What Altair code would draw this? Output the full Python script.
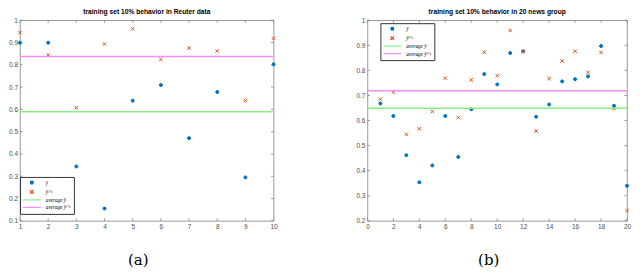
import altair as alt
import pandas as pd

# ---- data ----
left_x = [1, 2, 3, 4, 5, 6, 7, 8, 9, 10]
left_yhat = [0.899, 0.899, 0.344, 0.155, 0.639, 0.709, 0.471, 0.678, 0.295, 0.802]
left_ylu = [0.944, 0.844, 0.608, 0.893, 0.962, 0.824, 0.875, 0.862, 0.639, 0.919]
left_avg = [0.589, 0.837]

right_x = list(range(1, 21))
right_yhat = [0.668, 0.618, 0.462, 0.354, 0.421, 0.618, 0.455, 0.645, 0.785, 0.744,
              0.869, 0.876, 0.615, 0.664, 0.756, 0.765, 0.776, 0.897, 0.659, 0.340]
right_ylu = [0.685, 0.713, 0.545, 0.567, 0.636, 0.769, 0.612, 0.762, 0.872, 0.779,
             0.959, 0.874, 0.558, 0.767, 0.837, 0.876, 0.792, 0.871, 0.647, 0.241]
right_avg = [0.649, 0.719]

left_xticks = [1, 2, 3, 4, 5, 6, 7, 8, 9, 10]
left_yticks = [0.1, 0.2, 0.3, 0.4, 0.5, 0.6, 0.7, 0.8, 0.9, 1.0]
right_xticks = [0, 2, 4, 6, 8, 10, 12, 14, 16, 18, 20]
right_yticks = [0.2, 0.3, 0.4, 0.5, 0.6, 0.7, 0.8, 0.9, 1.0]

series_names = ["ŷ", "ŷˡ⁺ᵘ", "average ŷ", "average ŷˡ⁺ᵘ"]
stroke_colors = ["#0072BD", "#D95319", "#86F086", "#F38CF3"]
fill_colors = ["#0072BD", "transparent", "transparent", "transparent"]
X_PATH = "M-1,-1L1,1M-1,1L1,-1"
LINE_PATH = "M-4,0L4,0"
shapes = ["circle", X_PATH, LINE_PATH, LINE_PATH]
sizes = [9, 12, 20, 20]

GRAY = "#808080"
LABEL = "#4d4d4d"


def panel(xs, yhat, ylu, avgs, xticks, yticks, xdom, ydom, W, H, title, caption, lx, ly):
    n = len(xs)
    pts = pd.DataFrame({"x": xs + xs, "y": yhat + ylu,
                        "s": [series_names[0]] * n + [series_names[1]] * n})
    avg = pd.DataFrame({"y": avgs, "s": series_names[2:]})
    xt = pd.DataFrame({"x": xticks})
    yt = pd.DataFrame({"y": yticks})

    xsc = alt.Scale(domain=xdom, nice=False, zero=False)
    ysc = alt.Scale(domain=ydom, nice=False, zero=False)

    leg = alt.Legend(title=None, orient="none", legendX=lx, legendY=ly,
                     fillColor="white", strokeColor="#333333", padding=3,
                     labelFont="Liberation Serif", labelFontStyle="italic", labelFontSize=5.2,
                     labelColor="black", labelOffset=11, symbolOffset=5.9, rowPadding=0.5,
                     symbolStrokeWidth=1.2, labelLimit=100, cornerRadius=0)

    xaxis = alt.Axis(values=xticks, ticks=False, domain=False, grid=False,
                     labelFontSize=6.5, labelColor=LABEL, labelPadding=3,
                     labelFlush=False, labelOverlap=False,
                     title=caption, titleFont="DejaVu Serif", titleFontSize=15,
                     titleFontWeight="normal", titleColor="black",
                     titleX=W / 2 - 9, titleY=44, titleBaseline="alphabetic")
    yaxis = alt.Axis(values=yticks, format=".1~f", ticks=False, domain=False, grid=False,
                     labelFontSize=6.5, labelColor=LABEL, labelPadding=2.5,
                     labelFlush=False, labelOverlap=False, title=None)

    X = alt.X("x:Q", scale=xsc, axis=xaxis)
    Y = alt.Y("y:Q", scale=ysc, axis=yaxis)

    stroke = alt.Stroke("s:N", scale=alt.Scale(domain=series_names, range=stroke_colors), legend=leg)
    fill = alt.Fill("s:N", scale=alt.Scale(domain=series_names, range=fill_colors), legend=leg)
    shape = alt.Shape("s:N", scale=alt.Scale(domain=series_names, range=shapes), legend=leg)
    size = alt.Size("s:N", scale=alt.Scale(type="ordinal", domain=series_names, range=sizes), legend=leg)

    tk = dict(color=GRAY, strokeWidth=0.8)
    bt = alt.Chart(xt).mark_rule(**tk).encode(x=X, y=alt.value(H), y2=alt.value(H - 2.5))
    tt = alt.Chart(xt).mark_rule(**tk).encode(x=X, y=alt.value(0), y2=alt.value(2.5))
    lt = alt.Chart(yt).mark_rule(**tk).encode(y=Y, x=alt.value(0), x2=alt.value(2.5))
    rt = alt.Chart(yt).mark_rule(**tk).encode(y=Y, x=alt.value(W), x2=alt.value(W - 2.5))

    points = alt.Chart(pts).mark_point(filled=False, strokeWidth=1, opacity=1).encode(
        x=X, y=Y, stroke=stroke, fill=fill, shape=shape, size=size)
    lines = alt.Chart(avg).mark_rule(strokeWidth=1.5).encode(y=Y, stroke=stroke)

    return alt.layer(bt, tt, lt, rt, points, lines).properties(
        width=W, height=H,
        title=alt.TitleParams(title, fontSize=6.7, font="Liberation Sans", fontWeight="bold",
                              color="black", offset=1.2, frame="group", anchor="middle"))


H = 201
left = panel(left_x, left_yhat, left_ylu, left_avg, left_xticks, left_yticks,
             [1, 10], [0.1, 1.0], 254, H,
             "training set 10% behavior in Reuter data", "(a)", 0, 157)
right = panel(right_x, right_yhat, right_ylu, right_avg, right_xticks, right_yticks,
              [0, 20], [0.2, 1.0], 260, H,
              "training set 10% behavior in 20 news group", "(b)", 13, 3)

chart = alt.hconcat(left, right, spacing=94, bounds="flush").resolve_scale(
    stroke="independent", fill="independent", shape="independent", size="independent"
).resolve_legend(
    stroke="independent", fill="independent", shape="independent", size="independent"
).properties(
    padding=0
).configure_view(stroke=GRAY, strokeWidth=0.8).configure_axis(labelFont="Liberation Sans")

chart.save("out.html", embed_options={"renderer": "svg", "actions": False})
